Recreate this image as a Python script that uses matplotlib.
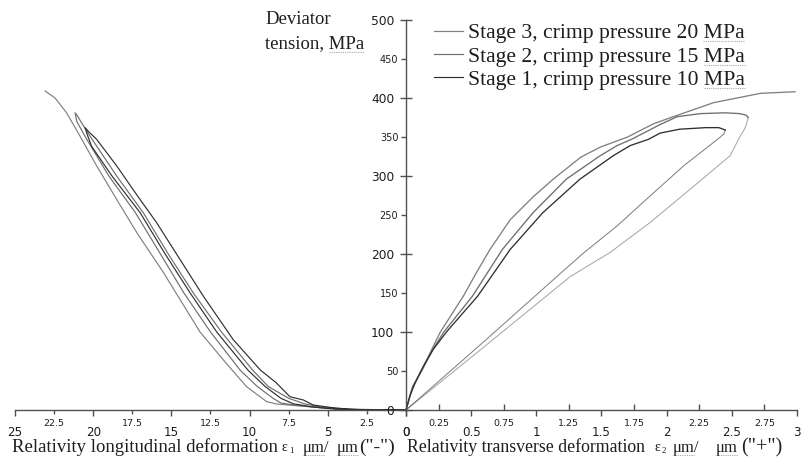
import matplotlib
matplotlib.use("Agg")
import matplotlib.pyplot as plt
from matplotlib.lines import Line2D
from matplotlib.ticker import FixedLocator, FixedFormatter

W, H, DPI = 803, 458, 100

# ---------------- data ----------------
stage_labels = ["Stage 3, crimp pressure 20 MPa",
                "Stage 2, crimp pressure 15 MPa",
                "Stage 1, crimp pressure 10 MPa"]
stage_colors = ["#808080", "#6e6e6e", "#303030"]

# transverse deformation eps2 (right half), deviator tension in MPa
eps2_s3 = [0, 0.044, 0.107, 0.184, 0.26, 0.44, 0.54, 0.645, 0.80, 0.98, 1.13,
           1.34, 1.49, 1.70, 1.90, 2.05, 2.36, 2.72, 2.985]
sig2_s3 = [0, 26, 47, 73, 99, 146, 176, 206, 244, 274, 296,
           324, 337, 350, 367, 376, 394, 406, 408]

eps2_s2 = [0, 0.05, 0.12, 0.20, 0.29, 0.51, 0.74, 0.975, 1.23, 1.49, 1.62, 1.73,
           1.95, 2.08, 2.26, 2.45, 2.56, 2.61, 2.625, 2.61, 2.59, 2.56, 2.487,
           2.18, 1.87, 1.566, 1.26, 0.57, 0]
sig2_s2 = [0, 30, 50, 76, 100, 146, 206, 253, 296, 326, 339, 347,
           366, 376, 380, 381, 380, 378, 375, 365, 358, 350, 326,
           283, 240, 202, 171, 77, 0]

eps2_s1 = [0, 0.03, 0.07, 0.13, 0.21, 0.31, 0.55, 0.80, 1.05, 1.335, 1.59, 1.72,
           1.86, 1.95, 2.10, 2.30, 2.40, 2.45, 2.44, 2.39, 2.13, 1.87, 1.62,
           1.36, 1.157, 0.6, 0]
sig2_s1 = [0, 18, 35, 55, 78, 100, 146, 206, 253, 296, 326, 339,
           347, 355, 360, 362, 362, 359, 354, 347, 313, 274, 236,
           201, 171, 88, 0]

# longitudinal deformation eps1 (left half, axis reversed)
eps1_s3 = [0, 2.5, 4.0, 5.71, 7.0, 8.27, 8.91, 10.2, 11.5, 13.17, 15.5, 17.2,
           18.5, 19.78, 20.84, 21.7, 22.44, 23.08]
sig1_s3 = [0, 0.3, 1.0, 3.4, 5.5, 7.7, 10.7, 30, 60, 100, 176, 227,
           270, 313, 351, 381, 400, 409]

eps1_s2 = [0, 4.0, 5.5, 7.0, 8.0, 8.5, 9.5, 10.6, 12.5, 14.2, 15.7, 17.3, 19.0,
           20.5, 21.05, 21.16, 21.0, 20.8, 20.2, 18.5, 16.8, 15.2, 13.6, 11.8,
           9.8, 8.8, 7.5, 6.5, 5.5, 4.2, 2.5, 0]
sig1_s2 = [0, 1, 3, 6, 9, 15, 30, 51, 100, 150, 200, 253, 300,
           350, 370, 381, 377, 370, 351, 300, 253, 200, 150, 100,
           51, 30, 15, 8, 4, 1, 0.2, 0]

eps1_s1 = [0, 4.5, 6.0, 7.2, 8.0, 9.0, 10.1, 12.1, 13.8, 15.4, 17.0, 18.8,
           20.1, 20.38, 20.52, 20.3, 19.78, 18.5, 17.22, 15.94, 14.45, 12.96,
           11.04, 9.3, 8.3, 7.42, 6.57, 5.93, 4.86, 3.58, 2.7, 0]
sig1_s1 = [0, 1, 4, 8, 15, 30, 51, 100, 150, 200, 253, 300,
           338, 353, 362, 357, 347, 313, 276, 240, 193, 146,
           90, 51, 35, 17, 12.9, 6.4, 3.4, 0.9, 0.2, 0]

# axis ticks
y_major = [0, 100, 200, 300, 400, 500]
y_minor = [50, 150, 250, 350, 450]
x2_major = [0, 0.5, 1, 1.5, 2, 2.5, 3]
x2_major_labels = ["0", "0.5", "1", "1.5", "2", "2.5", "3"]
x2_minor = [0.25, 0.75, 1.25, 1.75, 2.25, 2.75]
x2_minor_labels = ["0.25", "0.75", "1.25", "1.75", "2.25", "2.75"]
x1_major = [25, 20, 15, 10, 5, 0]
x1_major_labels = ["25", "20", "15", "10", "5", "0"]
x1_minor = [22.5, 17.5, 12.5, 7.5, 2.5]
x1_minor_labels = ["22.5", "17.5", "12.5", "7.5", "2.5"]

# ---------------- figure ----------------
SERIF = "Liberation Serif"
AXC = "#505050"
TXT = "#1e1e1e"
SQUIGGLE = "#a8a8a8"

fig = plt.figure(figsize=(W / DPI, H / DPI), dpi=DPI)


def fx(px):
    return px / W


def fy(py):
    return 1 - py / H


x0, xm, x1 = 15, 406, 797
ytop, ybot = 20, 410
axL = fig.add_axes([fx(x0), fy(ybot), (xm - x0) / W, (ybot - ytop) / H])
axR = fig.add_axes([fx(xm), fy(ybot), (x1 - xm) / W, (ybot - ytop) / H])
for ax in (axL, axR):
    ax.set_facecolor("none")
    ax.set_ylim(0, 500)
    for s in ("top", "right"):
        ax.spines[s].set_visible(False)
    for s in ("left", "bottom"):
        ax.spines[s].set_color(AXC)
        ax.spines[s].set_linewidth(1.0)

axL.set_xlim(25, 0)
axR.set_xlim(0, 3)
axL.spines["left"].set_visible(False)
axL.set_yticks([])

lw = 0.85
axL.plot(eps1_s3, sig1_s3, color=stage_colors[0], lw=lw, clip_on=False)
axL.plot(eps1_s2, sig1_s2, color=stage_colors[1], lw=lw, clip_on=False)
axL.plot(eps1_s1, sig1_s1, color=stage_colors[2], lw=lw, clip_on=False)


def loop(ax, x, y, color):
    """Loading branch up to the loop tip in full tone, unloading branch lighter."""
    k = x.index(max(x))
    h, = ax.plot(x[:k + 1], y[:k + 1], color=color, lw=0.95, clip_on=False)
    if k + 1 < len(y):
        ax.plot(x[k:], y[k:], color=color, lw=0.75, alpha=0.6, clip_on=False)
    return h


h3 = loop(axR, eps2_s3, sig2_s3, stage_colors[0])
h2 = loop(axR, eps2_s2, sig2_s2, stage_colors[1])
h1 = loop(axR, eps2_s1, sig2_s1, stage_colors[2])

# y axis (drawn on the right-hand axes' left spine)
axR.yaxis.set_major_locator(FixedLocator(y_major))
axR.yaxis.set_minor_locator(FixedLocator(y_minor))
axR.yaxis.set_major_formatter(FixedFormatter([str(v) for v in y_major]))
axR.yaxis.set_minor_formatter(FixedFormatter([str(v) for v in y_minor]))
axR.tick_params(axis="y", which="major", direction="inout", length=9, width=1,
                color=AXC, labelsize=8.8, labelcolor=TXT, pad=4.0)
axR.tick_params(axis="y", which="minor", direction="out", length=3.5, width=1,
                color=AXC, labelsize=7.0, labelcolor=TXT, pad=2.0)

# right x axis
axR.xaxis.set_major_locator(FixedLocator(x2_major))
axR.xaxis.set_minor_locator(FixedLocator(x2_minor))
axR.xaxis.set_major_formatter(FixedFormatter(x2_major_labels))
axR.xaxis.set_minor_formatter(FixedFormatter(x2_minor_labels))
axR.tick_params(axis="x", which="major", direction="out", length=4, width=1,
                color=AXC, labelsize=8.6, labelcolor=TXT, pad=7.5)
axR.tick_params(axis="x", which="minor", direction="in", length=4, width=1,
                color=AXC, labelsize=6.8, labelcolor=TXT, pad=6.5)

# left x axis
axL.xaxis.set_major_locator(FixedLocator(x1_major))
axL.xaxis.set_minor_locator(FixedLocator(x1_minor))
axL.xaxis.set_major_formatter(FixedFormatter(x1_major_labels))
axL.xaxis.set_minor_formatter(FixedFormatter(x1_minor_labels))
axL.tick_params(axis="x", which="major", direction="out", length=4, width=1,
                color=AXC, labelsize=8.6, labelcolor=TXT, pad=7.5)
axL.tick_params(axis="x", which="minor", direction="out", length=3, width=1,
                color=AXC, labelsize=6.8, labelcolor=TXT, pad=3.5)


def ftext(px, py, s, size, **kw):
    return fig.text(fx(px), fy(py), s, family=SERIF, fontsize=size, color=TXT,
                    ha="left", va="baseline", **kw)


# axis titles
fs = 13.5
ftext(265, 24, "Deviator", fs)
t_ten = ftext(265, 48, "tension, MPa", fs)

base = 452
ftext(12, base, "Relativity longitudinal deformation", fs)
ftext(282, base - 1, "\u03b5", 10)
ftext(289, base + 1, "1", 6.5)
t_um1 = ftext(303, base, "\u03bcm/", 12)
t_um2 = ftext(337, base, "\u03bcm", 12)
ftext(359, base, '("-")', 14)

ftext(407, base, "Relativity transverse deformation", 12.8)
ftext(655, base - 1, "\u03b5", 10)
ftext(662, base + 1, "2", 6.5)
t_um3 = ftext(673, base, "\u03bcm/", 12)
t_um4 = ftext(716, base, "\u03bcm", 12)
ftext(741, base, '("+")', 14.5)

leg = axR.legend([h3, h2, h1], stage_labels, loc="upper left",
                 bbox_to_anchor=(fx(434), fy(23)), bbox_transform=fig.transFigure,
                 frameon=False, prop={"family": SERIF, "size": 15.6},
                 handlelength=1.34, handletextpad=0.22, labelspacing=0.15,
                 borderpad=0, borderaxespad=0)
for t in leg.get_texts():
    t.set_color(TXT)
for ln in leg.get_lines():
    ln.set_linewidth(0.85)

# dotted proofing underlines under "MPa" and "\u03bcm"
fig.canvas.draw()
renderer = fig.canvas.get_renderer()


def underline(text, sub):
    s = text.get_text()
    i = s.find(sub)
    prop = text.get_fontproperties()
    pre_w = renderer.get_text_width_height_descent(s[:i], prop, ismath=False)[0] if i > 0 else 0
    sub_w = renderer.get_text_width_height_descent(sub, prop, ismath=False)[0]
    bb = text.get_window_extent(renderer)
    _, _, desc = renderer.get_text_width_height_descent(s, prop, ismath=False)
    y = bb.y0 + desc - 3
    fig.add_artist(Line2D([bb.x0 + pre_w, bb.x0 + pre_w + sub_w], [y, y],
                          transform=None, color=SQUIGGLE, lw=0.8,
                          linestyle=(0, (1, 1))))


underline(t_ten, "MPa")
for t in leg.get_texts():
    underline(t, "MPa")
for t in (t_um1, t_um2, t_um3, t_um4):
    underline(t, "\u03bcm")

fig.savefig("out.png", dpi=DPI)
